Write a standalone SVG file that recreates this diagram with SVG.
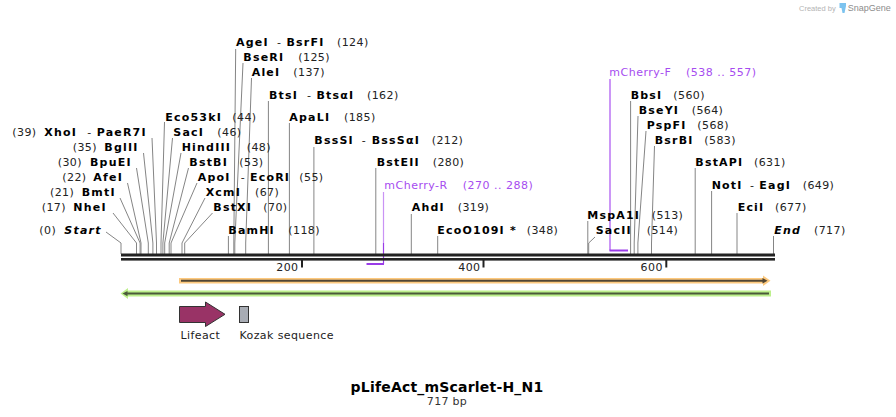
<svg xmlns="http://www.w3.org/2000/svg" width="896" height="417" viewBox="0 0 896 417">
<style>
text{font-family:"DejaVu Sans",Verdana,sans-serif;}
.n{font-size:11px;font-weight:bold;letter-spacing:1.2px;fill:#000;}
.i{font-style:italic;}
.p{font-size:11px;letter-spacing:0.4px;fill:#222;}
.pr{font-size:11px;letter-spacing:0.5px;fill:#a64cf0;}
.ld{stroke:#858585;stroke-width:1;fill:none;}
.fl{font-size:11px;letter-spacing:0.4px;fill:#222;}
</style>
<rect width="896" height="417" fill="#fff"/>

<g id="logo">
<text x="799" y="11" style="font-family:'Liberation Sans',Arial,sans-serif;font-size:7.5px;fill:#b4b4b4">Created by</text>
<path d="M839.5,3 h6.5 v3 l-1.5,7 h-2 l-1,-5 h-2 z" fill="#7cc3ef"/>
<text x="847.7" y="11" style="font-family:'Liberation Sans',Arial,sans-serif;font-size:9px;fill:#8c8c8c">SnapGene</text>
</g>

<g id="connectors">
<polyline class="ld" points="106,232 121,243 121,254"/>
<polyline class="ld" points="113,213 136.5,243 136.5,254"/>
<polyline class="ld" points="120,198 140.1,243 140.1,254"/>
<polyline class="ld" points="127.5,183 141,243 141,254"/>
<polyline class="ld" points="136.5,168 148.3,243 148.3,254"/>
<polyline class="ld" points="143.5,153 152.9,243 152.9,254"/>
<polyline class="ld" points="152,138 156.5,243 156.5,254"/>
<polyline class="ld" points="164.5,122 161,243 161,254"/>
<polyline class="ld" points="172.5,138 162.9,243 162.9,254"/>
<polyline class="ld" points="181,153 164.7,243 164.7,254"/>
<polyline class="ld" points="188.5,168 169.2,243 169.2,254"/>
<polyline class="ld" points="197,183 171,243 171,254"/>
<polyline class="ld" points="205,198 182,243 182,254"/>
<polyline class="ld" points="212.5,213 184.7,243 184.7,254"/>
<polyline class="ld" points="228.4,236 228.4,254"/>
<polyline class="ld" points="235.7,49 233.8,243 233.8,254"/>
<polyline class="ld" points="243,63 234.8,243 234.8,254"/>
<polyline class="ld" points="251.5,78 245.7,243 245.7,254"/>
<polyline class="ld" points="268.4,101 268.4,254"/>
<polyline class="ld" points="289.4,123 289.4,254"/>
<polyline class="ld" points="313.9,147 313.9,254"/>
<polyline class="ld" points="375.8,168 375.8,254"/>
<polyline class="ld" points="411.3,214 411.3,254"/>
<polyline class="ld" points="437.7,236 437.7,254"/>
<polyline class="ld" points="587.8,221 587.8,254"/>
<polyline class="ld" points="595,237 588.7,243 588.7,254"/>
<polyline class="ld" points="630.6,101 630.6,254"/>
<polyline class="ld" points="638,116 634.2,243 634.2,254"/>
<polyline class="ld" points="646,131 637.9,243 637.9,254"/>
<polyline class="ld" points="654.5,146 651.5,243 651.5,254"/>
<polyline class="ld" points="695.2,168 695.2,254"/>
<polyline class="ld" points="711.6,191 711.6,254"/>
<polyline class="ld" points="737,213 737,254"/>
<polyline class="ld" points="773.5,236 773.5,254"/>
<line x1="383.5" y1="192" x2="383.5" y2="243" stroke="#c993f5" stroke-width="1.2"/>
<line x1="383.5" y1="243" x2="383.5" y2="264" stroke="#9a3ce8" stroke-width="1.2"/>
<line x1="610" y1="79" x2="610" y2="250.5" stroke="#a850f0" stroke-width="1.2"/>
</g>

<g id="backbone">
<rect x="121" y="253.5" width="654" height="3" fill="#222"/>
<rect x="121" y="258" width="654" height="2.6" fill="#222"/>
<line x1="302" y1="260" x2="302" y2="267.5" stroke="#222" stroke-width="2"/>
<line x1="483.5" y1="260" x2="483.5" y2="267.5" stroke="#222" stroke-width="2"/>
<line x1="666.3" y1="260" x2="666.3" y2="267.5" stroke="#222" stroke-width="2"/>
<text class="p" x="298.5" y="271" text-anchor="end">200</text>
<text class="p" x="480.5" y="271" text-anchor="end">400</text>
<text class="p" x="662.8" y="271" text-anchor="end">600</text>
</g>

<g id="primer-mCherry-R">
<line x1="366.5" y1="264" x2="384" y2="264" stroke="#9a3ce8" stroke-width="2"/>
<text class="pr" y="189"><tspan x="384.3">mCherry-R</tspan><tspan x="462.7">(270 .. 288)</tspan></text>
</g>
<g id="primer-mCherry-F">
<line x1="609.5" y1="250.5" x2="628" y2="250.5" stroke="#9a3ce8" stroke-width="2"/>
<text class="pr" y="76"><tspan x="609.3">mCherry-F</tspan><tspan x="686">(538 .. 557)</tspan></text>
</g>

<g id="e-Start"><text y="233.5"><tspan class="p" x="39.3">(0)</tspan><tspan class="n i" x="64.3">Start</tspan></text></g>
<g id="e-NheI"><text y="211"><tspan class="p" x="41.7">(17)</tspan><tspan class="n" x="73.3">NheI</tspan></text></g>
<g id="e-BmtI"><text y="196"><tspan class="p" x="50">(21)</tspan><tspan class="n" x="81.7">BmtI</tspan></text></g>
<g id="e-AfeI"><text y="181"><tspan class="p" x="62.3">(22)</tspan><tspan class="n" x="93.3">AfeI</tspan></text></g>
<g id="e-BpuEI"><text y="166"><tspan class="p" x="57.7">(30)</tspan><tspan class="n" x="90">BpuEI</tspan></text></g>
<g id="e-BglII"><text y="151"><tspan class="p" x="72.7">(35)</tspan><tspan class="n" x="104.3">BglII</tspan></text></g>
<g id="e-XhoI"><text y="136"><tspan class="p" x="12.3">(39)</tspan><tspan class="n" x="44.3">XhoI</tspan><tspan class="p" x="87.3">-</tspan><tspan class="n" x="96.7">PaeR7I</tspan></text></g>

<g id="e-Eco53kI"><text y="121"><tspan class="n" x="165.3">Eco53kI</tspan><tspan class="p" x="232.3">(44)</tspan></text></g>
<g id="e-SacI"><text y="136"><tspan class="n" x="173.3">SacI</tspan><tspan class="p" x="217.3">(46)</tspan></text></g>
<g id="e-HindIII"><text y="151"><tspan class="n" x="181.7">HindIII</tspan><tspan class="p" x="246.7">(48)</tspan></text></g>
<g id="e-BstBI"><text y="166"><tspan class="n" x="189.3">BstBI</tspan><tspan class="p" x="239.3">(53)</tspan></text></g>
<g id="e-ApoI"><text y="181"><tspan class="n" x="197.7">ApoI</tspan><tspan class="p" x="240.7">-</tspan><tspan class="n" x="250">EcoRI</tspan><tspan class="p" x="299.3">(55)</tspan></text></g>
<g id="e-XcmI"><text y="196"><tspan class="n" x="205.7">XcmI</tspan><tspan class="p" x="255">(67)</tspan></text></g>
<g id="e-BstXI"><text y="211"><tspan class="n" x="213.3">BstXI</tspan><tspan class="p" x="263.3">(70)</tspan></text></g>
<g id="e-BamHI"><text y="233.5"><tspan class="n" x="228.3">BamHI</tspan><tspan class="p" x="288.3">(118)</tspan></text></g>
<g id="e-AgeI"><text y="46"><tspan class="n" x="236">AgeI</tspan><tspan class="p" x="277">-</tspan><tspan class="n" x="286.5">BsrFI</tspan><tspan class="p" x="337">(124)</tspan></text></g>
<g id="e-BseRI"><text y="60.5"><tspan class="n" x="243.3">BseRI</tspan><tspan class="p" x="298.3">(125)</tspan></text></g>
<g id="e-AleI"><text y="75.5"><tspan class="n" x="251.7">AleI</tspan><tspan class="p" x="293.3">(137)</tspan></text></g>
<g id="e-BtsI"><text y="98.5"><tspan class="n" x="269">BtsI</tspan><tspan class="p" x="307">-</tspan><tspan class="n" x="316.5">BtsαI</tspan><tspan class="p" x="367">(162)</tspan></text></g>
<g id="e-ApaLI"><text y="121"><tspan class="n" x="289.3">ApaLI</tspan><tspan class="p" x="344">(185)</tspan></text></g>
<g id="e-BssSI"><text y="144"><tspan class="n" x="314.3">BssSI</tspan><tspan class="p" x="361.7">-</tspan><tspan class="n" x="371.7">BssSαI</tspan><tspan class="p" x="431.7">(212)</tspan></text></g>
<g id="e-BstEII"><text y="166"><tspan class="n" x="376.7">BstEII</tspan><tspan class="p" x="432.7">(280)</tspan></text></g>
<g id="e-AhdI"><text y="211"><tspan class="n" x="411.7">AhdI</tspan><tspan class="p" x="457.7">(319)</tspan></text></g>
<g id="e-EcoO109I"><text y="233.5"><tspan class="n" x="437.3">EcoO109I *</tspan><tspan class="p" x="526.7">(348)</tspan></text></g>
<g id="e-MspA1I"><text y="218.5"><tspan class="n" x="587.3">MspA1I</tspan><tspan class="p" x="651.7">(513)</tspan></text></g>
<g id="e-SacII"><text y="233.5"><tspan class="n" x="595.7">SacII</tspan><tspan class="p" x="646.7">(514)</tspan></text></g>
<g id="e-BbsI"><text y="98.5"><tspan class="n" x="630.7">BbsI</tspan><tspan class="p" x="673.3">(560)</tspan></text></g>
<g id="e-BseYI"><text y="113.5"><tspan class="n" x="638.7">BseYI</tspan><tspan class="p" x="691.7">(564)</tspan></text></g>
<g id="e-PspFI"><text y="128.5"><tspan class="n" x="646.7">PspFI</tspan><tspan class="p" x="697.3">(568)</tspan></text></g>
<g id="e-BsrBI"><text y="143.5"><tspan class="n" x="654.7">BsrBI</tspan><tspan class="p" x="704.3">(583)</tspan></text></g>
<g id="e-BstAPI"><text y="166"><tspan class="n" x="695.3">BstAPI</tspan><tspan class="p" x="754">(631)</tspan></text></g>
<g id="e-NotI"><text y="188.5"><tspan class="n" x="711.7">NotI</tspan><tspan class="p" x="750">-</tspan><tspan class="n" x="759.3">EagI</tspan><tspan class="p" x="802.7">(649)</tspan></text></g>
<g id="e-EciI"><text y="211"><tspan class="n" x="737.7">EciI</tspan><tspan class="p" x="775">(677)</tspan></text></g>
<g id="e-End"><text y="233.5"><tspan class="n i" x="774.3">End</tspan><tspan class="p" x="814">(717)</tspan></text></g>

<g id="feature-orange">
<rect x="179" y="278" width="586" height="5.5" fill="#fdc97e"/>
<polygon points="763,275.5 770.5,280.7 763,286" fill="#fdc97e"/>
<line x1="181" y1="280.7" x2="763" y2="280.7" stroke="#514634" stroke-width="2"/>
<polygon points="762.5,278 767.5,280.7 762.5,283.4" fill="#514634"/>
</g>
<g id="feature-green">
<rect x="127" y="290.5" width="644" height="6" fill="#bdf08c"/>
<polygon points="128,288 120.5,293.5 128,299" fill="#bdf08c"/>
<line x1="127" y1="293.6" x2="769" y2="293.6" stroke="#4b5a3a" stroke-width="2"/>
<polygon points="127.5,291 122.5,293.6 127.5,296.2" fill="#4b5a3a"/>
</g>

<g id="feature-Lifeact">
<polygon points="179.5,306.5 205.5,306.5 205.5,302 225,314.3 205.5,326.5 205.5,322.5 179.5,322.5" fill="#993366" stroke="#333" stroke-width="1"/>
<text class="fl" x="180.5" y="339">Lifeact</text>
</g>
<g id="feature-Kozak">
<rect x="239.5" y="306.5" width="9" height="16" fill="#a8acb4" stroke="#333" stroke-width="1"/>
<text class="fl" x="239.5" y="339">Kozak sequence</text>
</g>

<g id="title">
<text x="447" y="392" text-anchor="middle" style="font-size:14px;font-weight:bold;letter-spacing:0.2px;fill:#000">pLifeAct_mScarlet-H_N1</text>
<text x="447" y="405" text-anchor="middle" style="font-size:11px;letter-spacing:0.3px;fill:#333">717 bp</text>
</g>
</svg>
